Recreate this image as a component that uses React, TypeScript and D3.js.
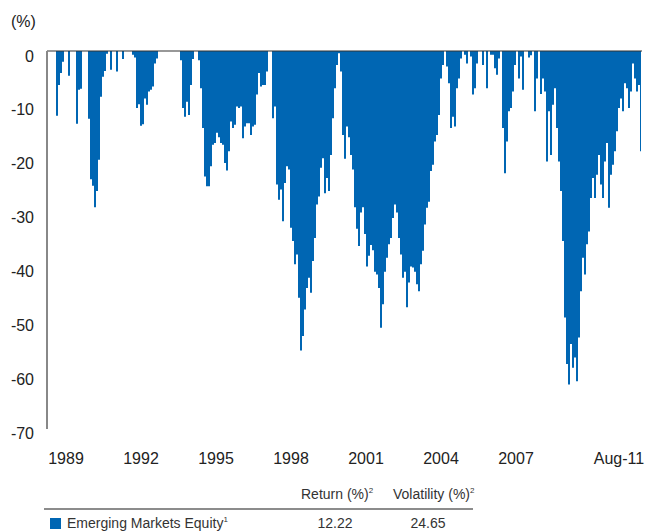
import * as d3 from "d3";
import React, { useEffect, useRef } from "react";

// drawdown (%), roughly one value per month
const drawdown1988to1993 = [
    0, 0, 0, 0, 0, -12, -6.3, -4.1, -2, 0,
    0, -4.6, 0, 0, 0, -13.5, -7.2, -7, 0, 0,
    0, -12.6, -23.8, -25, -29, -26, -20.2, -8.5, -4.8, -3.7,
    -0.5, 0, -3.5, 0, 0, -3.8, 0, 0, -1.5, 0,
    0, 0, 0, -0.7, -1.2, -10.6, -9.9, -13.9, -13.6, -8.8,
    -10, -7.5, -7.2, -6.6, -2.3, -1.4, 0, 0, 0, 0,
    0, 0, 0, 0, 0, 0, 0, -1.7, -10.6, -12.2,
    -9.4, -11.9, -6.3, -1.5, 0,
];
const drawdown1994to1999 = [
    0, -1.7, -6.9, -14.3, -23.3, -25.1, -25.1, -21.4, -17.4, -17.1,
    -15.2, -16, -17.1, -17.4, -20.8, -22.2, -18.6, -13.1, -14.3, -13.7,
    -10.3, -10.6, -10.3, -16.2, -14, -13.4, -13.4, -15.6, -14, -13.7,
    -8.1, -4.1, -6.6, -6.3, -6.3, -3.8, 0, 0, -12.5, -10.3,
    -24.8, -27.6, -25.7, -31.6, -24.5, -21.4, -22, -32.8, -35.3, -39.6,
    -37.8, -45.8, -55.6, -52.9, -48, -44, -42.1, -44.9, -39, -34.7,
    -28.5, -27, -21.7, -19.9, -26.4, -23.6, -26, -19.3, -12.5, -6.9,
    -2.6, -0.4, -3.8,
];
const drawdown2000to2005 = [
    -15.6, -20, -14, -16, -19.3, -22, -29, -33, -36.2, -30,
    -29, -34, -40, -38, -36, -37, -41, -41.5, -44, -51.4,
    -47, -41, -38.4, -35.9, -34.7, -31, -28.5, -30, -34.7, -37.8,
    -42.1, -41, -47.6, -43, -40, -40.2, -41, -43.3, -44.6, -39.6,
    -37.1, -32.2, -29.1, -28, -22.3, -21.1, -16.8, -15.6, -11.9, -5.1,
    -2.6, 0, -2.9, -6, -14.3, -12.2, -14, -6.9, -5.1, -1.4,
    0, -0.7, -2.3, 0, -1, -8.1, -6.9, -2.3, 0, 0,
    -2.6, 0, -6.9, 0,
];
const drawdown2006to2011 = [
    -0.7, -0.7, -3.2, -4.4, -1.4, 0, -14.3, -22.7, -16.8, -11.2,
    -10.6, -7.5, -2.6, 0, -5.1, -1, -7.2, 0, 0, -1.2,
    -0.8, 0, -11.2, -5.1, 0, -8, -5.1, -7.5, -20.5, -11.2,
    -19.3, -10, -6.9, -14.3, -20.5, -26, -35.3, -49.5, -58.1, -61.9,
    -54.4, -58.8, -56.9, -61.3, -53.2, -44.6, -38.4, -41.5, -35.9, -33.5,
    -27.3, -23.6, -27.3, -23, -19.3, -24.8, -27.3, -20.5, -17.1, -29.1,
    -23, -21.1, -18.6, -14.9, -10.6, -8.8, -11.2, -6, -6.9, -10.6,
    -7.5, -2.3, -5.1, -7.5, -6.3, -18.6,
];

const yTicks = [0, -10, -20, -30, -40, -50, -60, -70];
const xTickLabels = ["1989", "1992", "1995", "1998", "2001", "2004", "2007", "Aug-11"];
const xTickIndex = [9.5, 47, 84.5, 122, 159.5, 197, 234.5, 286];

const seriesName = "Emerging Markets Equity";
const returnPct = "12.22";
const volatilityPct = "24.65";

const BLUE = "#0066b3";
const FONT = "'Liberation Sans', Arial, Helvetica, sans-serif";

function drawChart(node: SVGSVGElement) {
    const svg = d3.select(node);
    svg.selectAll("*").remove();

    const data = [
        ...drawdown1988to1993,
        ...drawdown1994to1999,
        ...drawdown2000to2005,
        ...drawdown2006to2011,
    ];

    const x = d3.scaleLinear().domain([0, data.length - 1]).range([47, 641]);
    const y = d3.scaleLinear().domain([0, -70]).range([51, 428]);

    const area = d3
        .area<number>()
        .curve(d3.curveStep)
        .x((d, i) => x(i))
        .y0(y(0))
        .y1((d) => y(d));

    svg.append("path").datum(data).attr("d", area).attr("fill", BLUE);

    // zero line on top
    svg.append("line")
        .attr("x1", 47)
        .attr("x2", 642)
        .attr("y1", y(0))
        .attr("y2", y(0))
        .attr("stroke", "#333")
        .attr("stroke-width", 1.2);

    // y axis line
    svg.append("line")
        .attr("x1", 47)
        .attr("x2", 47)
        .attr("y1", y(0))
        .attr("y2", y(-70) + 1)
        .attr("stroke", "#888")
        .attr("stroke-width", 2);

    svg.append("g")
        .selectAll("text")
        .data(yTicks)
        .enter()
        .append("text")
        .attr("x", 34)
        .attr("y", (d) => y(d) + 10.5)
        .attr("text-anchor", "end")
        .attr("font-size", 16)
        .attr("font-family", FONT)
        .attr("fill", "#222")
        .text((d) => d);

    svg.append("text")
        .attr("x", 11)
        .attr("y", 27)
        .attr("font-size", 16)
        .attr("font-family", FONT)
        .attr("fill", "#222")
        .text("(%)");

    svg.append("g")
        .selectAll("text")
        .data(xTickLabels)
        .enter()
        .append("text")
        .attr("x", (d, i) => x(xTickIndex[i]))
        .attr("y", 464)
        .attr("text-anchor", "middle")
        .attr("font-size", 16)
        .attr("font-family", FONT)
        .attr("fill", "#222")
        .text((d) => d);

    // table below the chart
    const head = svg.append("g").attr("font-size", 14).attr("font-family", FONT).attr("fill", "#333");
    const h1 = head.append("text").attr("x", 301).attr("y", 499);
    h1.append("tspan").text("Return (%)");
    h1.append("tspan").attr("font-size", 8).attr("dy", -6).text("2");
    const h2 = head.append("text").attr("x", 393).attr("y", 499);
    h2.append("tspan").text("Volatility (%)");
    h2.append("tspan").attr("font-size", 8).attr("dy", -6).text("2");

    svg.append("line")
        .attr("x1", 44)
        .attr("x2", 473)
        .attr("y1", 509)
        .attr("y2", 509)
        .attr("stroke", "#666")
        .attr("stroke-width", 1.5);

    svg.append("rect")
        .attr("x", 50)
        .attr("y", 518)
        .attr("width", 11)
        .attr("height", 11)
        .attr("fill", BLUE);

    const row = svg.append("g").attr("font-size", 14).attr("font-family", FONT).attr("fill", "#333");
    const name = row.append("text").attr("x", 67).attr("y", 528);
    name.append("tspan").text(seriesName);
    name.append("tspan").attr("font-size", 8).attr("dy", -6).text("1");
    row.append("text").attr("x", 335).attr("y", 528).attr("text-anchor", "middle").text(returnPct);
    row.append("text").attr("x", 428).attr("y", 528).attr("text-anchor", "middle").text(volatilityPct);
}

export default function App() {
    const ref = useRef<SVGSVGElement>(null);

    useEffect(() => {
        if (ref.current) drawChart(ref.current);
    }, []);

    return (
        <svg
            ref={ref}
            width={649}
            height={531}
            style={{ position: "absolute", left: 0, top: 0, background: "#fff" }}
        />
    );
}
